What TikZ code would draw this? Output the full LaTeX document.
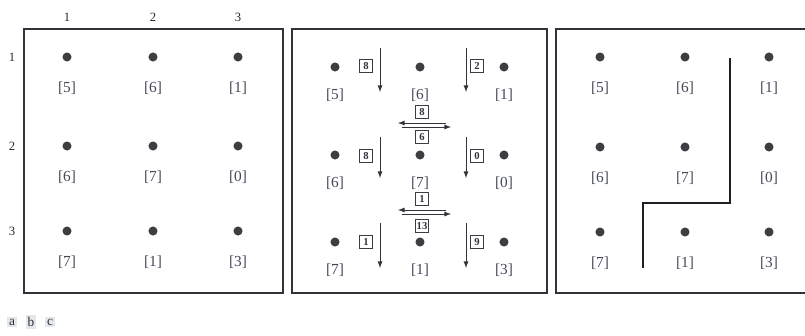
\documentclass[tikz,border=0pt]{standalone}
\usepackage{fontspec}
\setmainfont{Liberation Serif}
\usetikzlibrary{positioning}

\tikzset{
  site/.style={circle,fill={rgb, 255:red, 62; green, 62; blue, 66 },inner sep=0pt,minimum size=6.8pt},
  lab/.style={inner sep=0.75pt,text={rgb, 255:red, 70; green, 72; blue, 90 },font=\fontsize{11.5}{13}\selectfont},
  hdr/.style={inner sep=0.75pt,text={rgb, 255:red, 40; green, 40; blue, 48 },font=\fontsize{9.5}{11}\selectfont},
  wbox/.style={draw={rgb, 255:red, 60; green, 60; blue, 70 },line width=0.7pt,inner sep=1pt,minimum size=9.5pt,font=\fontsize{8}{9}\selectfont\bfseries,text={rgb, 255:red, 50; green, 50; blue, 60 }},
  frame/.style={draw={rgb, 255:red, 50; green, 50; blue, 58 },line width=0.9pt},
  flow/.style={draw={rgb, 255:red, 50; green, 50; blue, 58 },line width=0.7pt,-latex},
  cut/.style={draw={rgb, 255:red, 30; green, 30; blue, 36 },line width=1.5pt},
  tag/.style={inner sep=1.5pt,fill={rgb, 255:red, 228; green, 231; blue, 234 },font=\fontsize{10}{11}\selectfont,text={rgb, 255:red, 45; green, 45; blue, 55 }}
}

\begin{document}
\begin{tikzpicture}[x=0.75pt,y=0.75pt,yscale=-1]
\useasboundingbox (0,0) rectangle (805,335);

%Shape: Rectangles [panels]
\draw [frame] (24,29) rectangle (283,293);
\draw [frame] (292,29) rectangle (547,293);
\draw [frame] (806,29) -- (556,29) -- (556,293) -- (806,293);

% column and row numbers
\node [hdr] (c1) at (67,17) {1};
\node [hdr] (c2) at (153,17) {2};
\node [hdr] (c3) at (238,17) {3};
\node [hdr] (r1) at (12,57) {1};
\node [hdr] (r2) at (12,146) {2};
\node [hdr] (r3) at (12,231) {3};

%Panel a: sites
\node [site] (a11) at (67,57) {};
\node [site] (a12) at (153,57) {};
\node [site] (a13) at (238,57) {};
\node [site] (a21) at (67,146) {};
\node [site] (a22) at (153,146) {};
\node [site] (a23) at (238,146) {};
\node [site] (a31) at (67,231) {};
\node [site] (a32) at (153,231) {};
\node [site] (a33) at (238,231) {};
% Text Node
\node [lab,below=14pt of a11] (la11) {[5]};
\node [lab,below=14pt of a12] (la12) {[6]};
\node [lab,below=14pt of a13] (la13) {[1]};
\node [lab,below=14pt of a21] (la21) {[6]};
\node [lab,below=14pt of a22] (la22) {[7]};
\node [lab,below=14pt of a23] (la23) {[0]};
\node [lab,below=14pt of a31] (la31) {[7]};
\node [lab,below=14pt of a32] (la32) {[1]};
\node [lab,below=14pt of a33] (la33) {[3]};

%Panel b: sites
\node [site] (b11) at (335,67) {};
\node [site] (b12) at (420,67) {};
\node [site] (b13) at (504,67) {};
\node [site] (b21) at (335,155) {};
\node [site] (b22) at (420,155) {};
\node [site] (b23) at (504,155) {};
\node [site] (b31) at (335,242) {};
\node [site] (b32) at (420,242) {};
\node [site] (b33) at (504,242) {};
% Text Node
\node [lab,below=12pt of b11] (lb11) {[5]};
\node [lab,below=12pt of b12] (lb12) {[6]};
\node [lab,below=12pt of b13] (lb13) {[1]};
\node [lab,below=12pt of b21] (lb21) {[6]};
\node [lab,below=12pt of b22] (lb22) {[7]};
\node [lab,below=12pt of b23] (lb23) {[0]};
\node [lab,below=12pt of b31] (lb31) {[7]};
\node [lab,below=12pt of b32] (lb32) {[1]};
\node [lab,below=12pt of b33] (lb33) {[3]};

%Vertical flows
\coordinate (v11s) at (380,48); \coordinate (v11e) at (380,92);
\coordinate (v12s) at (466,48); \coordinate (v12e) at (466,92);
\coordinate (v21s) at (380,137); \coordinate (v21e) at (380,178);
\coordinate (v22s) at (466,137); \coordinate (v22e) at (466,178);
\coordinate (v31s) at (380,223); \coordinate (v31e) at (380,268);
\coordinate (v32s) at (466,223); \coordinate (v32e) at (466,268);
\draw [flow] (v11s) -- (v11e);
\draw [flow] (v12s) -- (v12e);
\draw [flow] (v21s) -- (v21e);
\draw [flow] (v22s) -- (v22e);
\draw [flow] (v31s) -- (v31e);
\draw [flow] (v32s) -- (v32e);
\node [wbox] (w11) at (366,66) {8};
\node [wbox] (w12) at (477,66) {2};
\node [wbox] (w21) at (366,156) {8};
\node [wbox] (w22) at (477,156) {0};
\node [wbox] (w31) at (366,242) {1};
\node [wbox] (w32) at (477,242) {9};

%Horizontal flows
\coordinate (h1l) at (398,123); \coordinate (h1r) at (446,123);
\coordinate (h2l) at (402,127); \coordinate (h2r) at (451,127);
\coordinate (h3l) at (398,210); \coordinate (h3r) at (446,210);
\coordinate (h4l) at (402,214); \coordinate (h4r) at (451,214);
\draw [flow] (h1r) -- (h1l);
\draw [flow] (h2l) -- (h2r);
\draw [flow] (h3r) -- (h3l);
\draw [flow] (h4l) -- (h4r);
\node [wbox] (u1) at (422,112) {8};
\node [wbox] (d1) at (422,137) {6};
\node [wbox] (u2) at (422,199) {1};
\node [wbox] (d2) at (422,226) {13};

%Panel c: sites
\node [site] (c11) at (600,57) {};
\node [site] (c12) at (685,57) {};
\node [site] (c13) at (769,57) {};
\node [site] (c21) at (600,147) {};
\node [site] (c22) at (685,147) {};
\node [site] (c23) at (769,147) {};
\node [site] (c31) at (600,232) {};
\node [site] (c32) at (685,232) {};
\node [site] (c33) at (769,232) {};
% Text Node
\node [lab,below=14pt of c11] (lc11) {[5]};
\node [lab,below=14pt of c12] (lc12) {[6]};
\node [lab,below=14pt of c13] (lc13) {[1]};
\node [lab,below=14pt of c21] (lc21) {[6]};
\node [lab,below=14pt of c22] (lc22) {[7]};
\node [lab,below=14pt of c23] (lc23) {[0]};
\node [lab,below=14pt of c31] (lc31) {[7]};
\node [lab,below=14pt of c32] (lc32) {[1]};
\node [lab,below=14pt of c33] (lc33) {[3]};

%Straight Lines [watershed]
\draw [cut] (730,58) -- (730,203) -- (643,203) -- (643,268);

% Text Node
\node [tag] (ta) at (12,322) {a};
\node [tag] (tb) at (31,322) {b};
\node [tag] (tc) at (50,322) {c};

\end{tikzpicture}
\end{document}
